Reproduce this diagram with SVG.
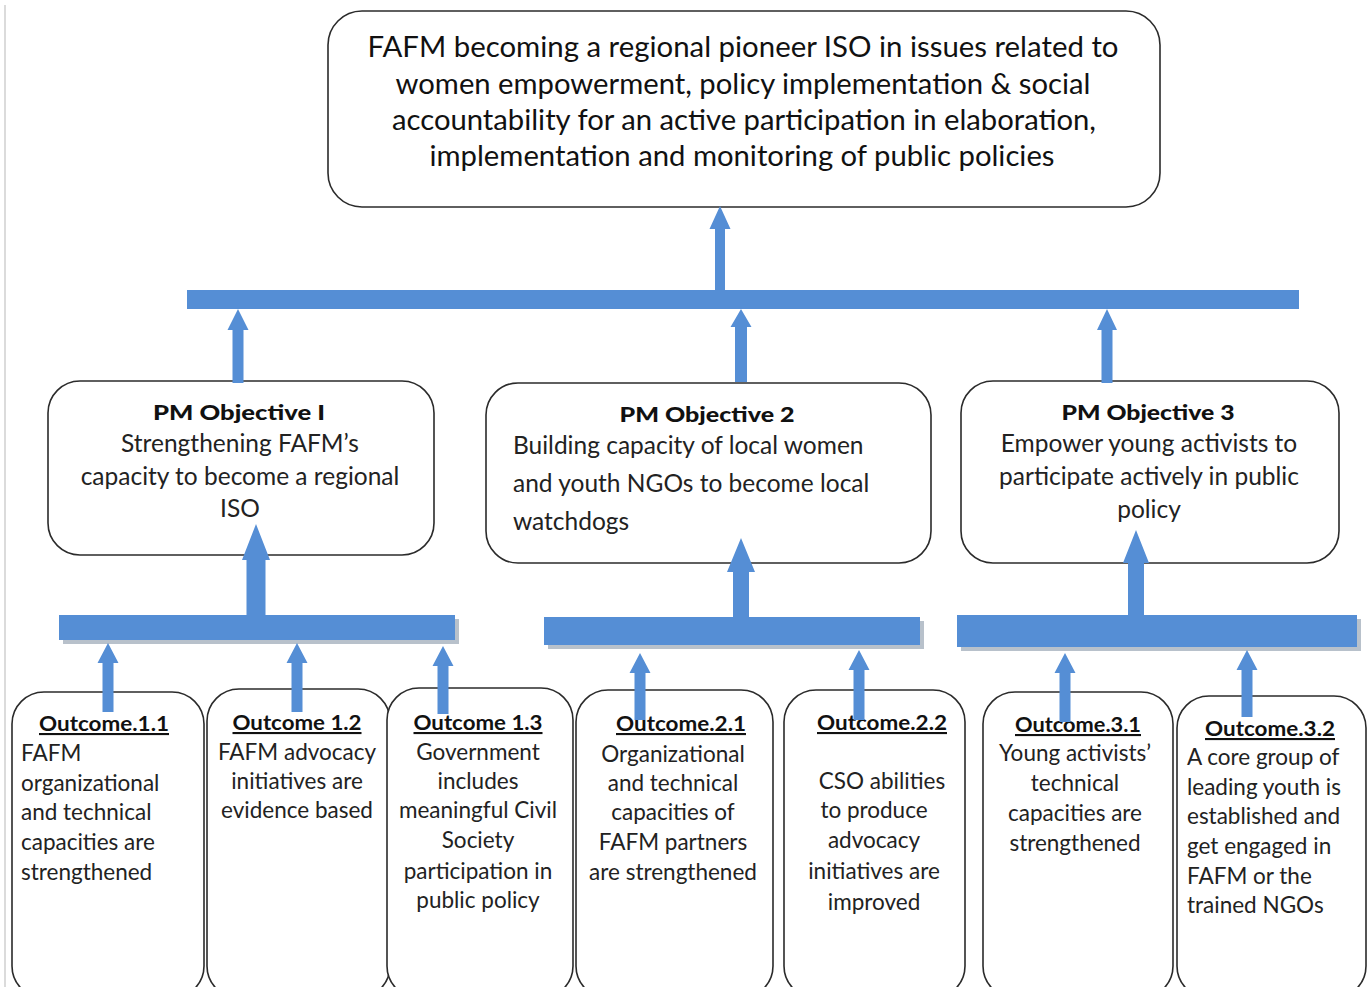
<svg xmlns="http://www.w3.org/2000/svg" width="1367" height="987" viewBox="0 0 1367 987">
<style>
.box{fill:#fff;stroke:#2b2b2b;stroke-width:1.6}
.bar{fill:#558ed5}
.shadow{fill:#9aa6b5;opacity:0.7}
.arr{fill:#558ed5}
.top{font-family:Lato,"Open Sans",sans-serif;font-size:28px;fill:#111;text-anchor:middle}
.hd{font-family:Lato,"Open Sans",sans-serif;font-size:21px;font-weight:900;fill:#111;text-anchor:middle}
.ob{font-family:Lato,"Open Sans",sans-serif;font-size:24.5px;fill:#222}
.oh{font-family:Lato,"Open Sans",sans-serif;font-size:21px;font-weight:700;fill:#111;text-anchor:middle;text-decoration:underline}
.ot{font-family:Lato,"Open Sans",sans-serif;font-size:22.5px;fill:#222}
.c{text-anchor:middle}
</style>
<line x1="5" y1="5" x2="5" y2="987" stroke="#cfcfcf" stroke-width="1.5"/>

<g id="goal">
<rect class="box" x="328" y="11" width="832" height="196" rx="34"/>
<text class="top" x="743" y="57" textLength="751" lengthAdjust="spacingAndGlyphs">FAFM becoming a regional pioneer ISO in issues related to</text>
<text class="top" x="743" y="94" textLength="695" lengthAdjust="spacingAndGlyphs">women empowerment, policy implementation &amp; social</text>
<text class="top" x="744" y="130" textLength="704" lengthAdjust="spacingAndGlyphs">accountability for an active participation in elaboration,</text>
<text class="top" x="742" y="166" textLength="625" lengthAdjust="spacingAndGlyphs">implementation and monitoring of public policies</text>
</g>

<g id="objective1">
<rect class="box" x="48" y="381" width="386" height="174" rx="32"/>
<text class="hd" x="239" y="420" textLength="172" lengthAdjust="spacingAndGlyphs">PM Objective I</text>
<text class="ob c" x="240" y="452">Strengthening FAFM’s</text>
<text class="ob c" x="240" y="485">capacity to become a regional</text>
<text class="ob c" x="240" y="517">ISO</text>
</g>

<g id="objective2">
<rect class="box" x="486" y="383" width="445" height="180" rx="32"/>
<text class="hd" x="707" y="422" textLength="175" lengthAdjust="spacingAndGlyphs">PM Objective 2</text>
<text class="ob" x="513" y="454">Building capacity of local women</text>
<text class="ob" x="513" y="492">and youth NGOs to become local</text>
<text class="ob" x="513" y="530">watchdogs</text>
</g>

<g id="objective3">
<rect class="box" x="961" y="381" width="378" height="182" rx="32"/>
<text class="hd" x="1148" y="420" textLength="173" lengthAdjust="spacingAndGlyphs">PM Objective 3</text>
<text class="ob c" x="1149" y="452">Empower young activists to</text>
<text class="ob c" x="1149" y="485">participate actively in public</text>
<text class="ob c" x="1149" y="518">policy</text>
</g>

<g id="outcome11">
<rect class="box" x="12" y="692" width="192" height="306" rx="32"/>
<text class="oh" x="104" y="731" textLength="130" lengthAdjust="spacingAndGlyphs">Outcome.1.1</text>
<text class="ot" x="21" y="761">FAFM</text>
<text class="ot" x="21" y="791">organizational</text>
<text class="ot" x="21" y="820">and technical</text>
<text class="ot" x="21" y="850">capacities are</text>
<text class="ot" x="21" y="880">strengthened</text>
</g>

<g id="outcome12">
<rect class="box" x="207" y="689" width="183" height="309" rx="32"/>
<text class="oh" x="297" y="730" textLength="129" lengthAdjust="spacingAndGlyphs">Outcome 1.2</text>
<text class="ot c" x="297" y="760">FAFM advocacy</text>
<text class="ot c" x="297" y="789">initiatives are</text>
<text class="ot c" x="297" y="818">evidence based</text>
</g>

<g id="outcome13">
<rect class="box" x="387" y="688" width="186" height="310" rx="32"/>
<text class="oh" x="478" y="730" textLength="129" lengthAdjust="spacingAndGlyphs">Outcome 1.3</text>
<text class="ot c" x="478" y="760">Government</text>
<text class="ot c" x="478" y="789">includes</text>
<text class="ot c" x="478" y="818">meaningful Civil</text>
<text class="ot c" x="478" y="848">Society</text>
<text class="ot c" x="478" y="879">participation in</text>
<text class="ot c" x="478" y="908">public policy</text>
</g>

<g id="outcome21">
<rect class="box" x="576" y="690" width="197" height="308" rx="32"/>
<text class="oh" x="681" y="731" textLength="130" lengthAdjust="spacingAndGlyphs">Outcome.2.1</text>
<text class="ot c" x="673" y="762">Organizational</text>
<text class="ot c" x="673" y="791">and technical</text>
<text class="ot c" x="673" y="820">capacities of</text>
<text class="ot c" x="673" y="850">FAFM partners</text>
<text class="ot c" x="673" y="880">are strengthened</text>
</g>

<g id="outcome22">
<rect class="box" x="784" y="690" width="181" height="308" rx="32"/>
<text class="oh" x="882" y="730" textLength="130" lengthAdjust="spacingAndGlyphs">Outcome.2.2</text>
<text class="ot c" x="882" y="789">CSO abilities</text>
<text class="ot c" x="874" y="818">to produce</text>
<text class="ot c" x="874" y="848">advocacy</text>
<text class="ot c" x="874" y="879">initiatives are</text>
<text class="ot c" x="874" y="910">improved</text>
</g>

<g id="outcome31">
<rect class="box" x="983" y="692" width="190" height="306" rx="32"/>
<text class="oh" x="1078" y="732" textLength="126" lengthAdjust="spacingAndGlyphs">Outcome.3.1</text>
<text class="ot c" x="1075" y="761">Young activists’</text>
<text class="ot c" x="1075" y="791">technical</text>
<text class="ot c" x="1075" y="821">capacities are</text>
<text class="ot c" x="1075" y="851">strengthened</text>
</g>

<g id="outcome32">
<rect class="box" x="1177" y="696" width="189" height="302" rx="32"/>
<text class="oh" x="1270" y="736" textLength="130" lengthAdjust="spacingAndGlyphs">Outcome.3.2</text>
<text class="ot" x="1187" y="765">A core group of</text>
<text class="ot" x="1187" y="795">leading youth is</text>
<text class="ot" x="1187" y="824">established and</text>
<text class="ot" x="1187" y="854">get engaged in</text>
<text class="ot" x="1187" y="884">FAFM or the</text>
<text class="ot" x="1187" y="913">trained NGOs</text>
</g>

<g id="connectors">
<rect class="bar" x="187" y="290" width="1112" height="19"/>
<rect class="shadow" x="63" y="619" width="396" height="25"/>
<rect class="bar" x="59" y="615" width="396" height="25"/>
<rect class="shadow" x="548" y="621" width="376" height="28"/>
<rect class="bar" x="544" y="617" width="376" height="28"/>
<rect class="shadow" x="961" y="619" width="400" height="32"/>
<rect class="bar" x="957" y="615" width="400" height="32"/>

<path class="arr" d="M720,206 L730.5,229 L725,229 L725,290 L715,290 L715,229 L709.5,229 Z"/>
<path class="arr" d="M238,309 L248.5,330 L243.5,330 L243.5,383 L232.5,383 L232.5,330 L227.5,330 Z"/>
<path class="arr" d="M741,309 L751.5,327 L747,327 L747,382 L735,382 L735,327 L730.5,327 Z"/>
<path class="arr" d="M1107,309 L1117,330 L1112.5,330 L1112.5,383 L1101.5,383 L1101.5,330 L1097,330 Z"/>

<path class="arr" d="M256,524 L270,560 L265.5,560 L265.5,615 L246.5,615 L246.5,560 L242,560 Z"/>
<path class="arr" d="M741,538 L755,572 L749,572 L749,617 L733,617 L733,572 L727,572 Z"/>
<path class="arr" d="M1136,530 L1149,563 L1144,563 L1144,617 L1128,617 L1128,563 L1123,563 Z"/>

<path class="arr" d="M108,643 L118.5,663 L113.5,663 L113.5,712 L102.5,712 L102.5,663 L97.5,663 Z"/>
<path class="arr" d="M297,643 L307.5,663 L302.5,663 L302.5,712 L291.5,712 L291.5,663 L286.5,663 Z"/>
<path class="arr" d="M443,646 L453.5,666 L448.5,666 L448.5,714 L437.5,714 L437.5,666 L432.5,666 Z"/>
<path class="arr" d="M640,653 L650.5,673 L645.5,673 L645.5,720 L634.5,720 L634.5,673 L629.5,673 Z"/>
<path class="arr" d="M859,650 L869.5,670 L864.5,670 L864.5,720 L853.5,720 L853.5,670 L848.5,670 Z"/>
<path class="arr" d="M1065,653 L1075.5,673 L1070.5,673 L1070.5,722 L1059.5,722 L1059.5,673 L1054.5,673 Z"/>
<path class="arr" d="M1247,650 L1257.5,670 L1252.5,670 L1252.5,717 L1241.5,717 L1241.5,670 L1236.5,670 Z"/>
</g>
</svg>
